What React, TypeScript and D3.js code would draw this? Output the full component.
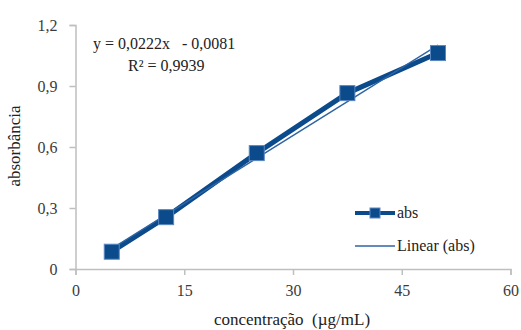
import React, { useEffect, useRef } from 'react'
import * as d3 from 'd3'

// data
const concentrations = [5, 12.5, 25, 37.5, 50]
const absValues = [0.085, 0.255, 0.57, 0.865, 1.062]
const xTicks = [0, 15, 30, 45, 60]
const yTicks = [0, 0.3, 0.6, 0.9, 1.2]
const equationLabel = 'y = 0,0222x   - 0,0081'
const r2Label = 'R² = 0,9939'

const blue = '#0b4a8b'
const font = "'Liberation Serif', 'DejaVu Serif', serif"

function App() {
  const ref = useRef<SVGSVGElement | null>(null)

  useEffect(() => {
    const w = 521
    const h = 330
    const x = d3.scaleLinear().domain([0, 60]).range([75.5, 510.5])
    const y = d3.scaleLinear().domain([0, 1.2]).range([269, 25])

    const svg = d3.select(ref.current)
    svg.selectAll('*').remove()
    svg.attr('width', w).attr('height', h).style('font-family', font)

    // axes
    const xAxis = svg
      .append('g')
      .attr('transform', `translate(0, ${y(0)})`)
      .call(
        d3
          .axisBottom(x)
          .tickValues(xTicks)
          .tickSize(6)
          .tickPadding(10)
          .tickFormat(d => String(d))
      )
    const yAxis = svg
      .append('g')
      .attr('transform', `translate(${x(0)}, 0)`)
      .call(
        d3
          .axisLeft(y)
          .tickValues(yTicks)
          .tickSize(6)
          .tickPadding(12)
          .tickFormat(d => (d === 0 ? '0' : d3.format('.1f')(d as number).replace('.', ',')))
      )
    ;[xAxis, yAxis].forEach(g => {
      g.attr('font-family', null).attr('font-size', null)
      g.select('.domain').attr('stroke', '#bfbfbf').attr('stroke-width', 1.5)
      g.selectAll('.tick line').attr('stroke', '#bfbfbf').attr('stroke-width', 1.5)
      g.selectAll('.tick text')
        .attr('fill', '#3b3b3b')
        .style('font-family', font)
        .style('font-size', '16px')
    })

    // trendline from least squares
    const mx = d3.mean(concentrations) as number
    const my = d3.mean(absValues) as number
    const sxy = d3.sum(concentrations, (c, i) => (c - mx) * (absValues[i] - my))
    const sxx = d3.sum(concentrations, c => (c - mx) * (c - mx))
    const slope = sxy / sxx
    const intercept = my - slope * mx
    const x0 = concentrations[0]
    const x1 = concentrations[concentrations.length - 1]

    // series line
    const line = d3
      .line<number>()
      .x((d, i) => x(concentrations[i]))
      .y(d => y(d))
    svg
      .append('path')
      .datum(absValues)
      .attr('fill', 'none')
      .attr('stroke', blue)
      .attr('stroke-width', 5)
      .attr('stroke-linejoin', 'round')
      .attr('d', line)

    svg
      .append('line')
      .attr('x1', x(x0))
      .attr('y1', y(slope * x0 + intercept))
      .attr('x2', x(x1))
      .attr('y2', y(slope * x1 + intercept))
      .attr('stroke', '#2f64a3')
      .attr('stroke-width', 1.3)

    // markers
    const m = 15
    svg
      .selectAll('rect.pt')
      .data(absValues)
      .enter()
      .append('rect')
      .attr('class', 'pt')
      .attr('x', (d, i) => x(concentrations[i]) - m / 2)
      .attr('y', d => y(d) - m / 2)
      .attr('width', m)
      .attr('height', m)
      .attr('fill', blue)
      .attr('stroke', '#5a86c0')
      .attr('stroke-width', 1)

    const addText = (tx: number, ty: number, s: string, size = 16) =>
      svg
        .append('text')
        .attr('x', tx)
        .attr('y', ty)
        .style('font-family', font)
        .style('font-size', `${size}px`)
        .style('white-space', 'pre')
        .attr('fill', '#222')
        .text(s)

    // equation
    addText(93, 49, equationLabel)
    addText(128, 71, r2Label)

    // legend
    const lg = svg.append('g')
    lg.append('line')
      .attr('x1', 355)
      .attr('x2', 395)
      .attr('y1', 213)
      .attr('y2', 213)
      .attr('stroke', blue)
      .attr('stroke-width', 4)
    lg.append('rect')
      .attr('x', 370)
      .attr('y', 208)
      .attr('width', 10)
      .attr('height', 10)
      .attr('fill', blue)
      .attr('stroke', '#5a86c0')
    addText(397, 218, 'abs')
    lg.append('line')
      .attr('x1', 355)
      .attr('x2', 395)
      .attr('y1', 246)
      .attr('y2', 246)
      .attr('stroke', '#2f64a3')
      .attr('stroke-width', 1.3)
    addText(397, 251, 'Linear (abs)')

    // axis titles
    addText(292, 325, 'concentração  (µg/mL)', 17).attr('text-anchor', 'middle')
    addText(0, 0, 'absorbância', 17)
      .attr('transform', 'translate(20, 146) rotate(-90)')
      .attr('text-anchor', 'middle')
  }, [])

  return (
    <div>
      <svg ref={ref} style={{ position: 'absolute', left: 0, top: 0 }} />
    </div>
  )
}

export default App
